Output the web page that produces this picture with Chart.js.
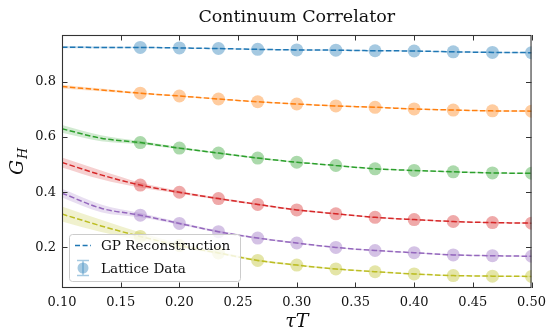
<!DOCTYPE html>
<html>
<head>
<meta charset="utf-8">
<script src="https://cdn.jsdelivr.net/npm/chart.js@4/dist/chart.umd.min.js"></script>
<style>
html, body { margin: 0; padding: 0; background: #fff; }
#wrap { width: 553px; height: 333px; }
</style>
</head>
<body>
<div id="wrap"><canvas id="corrChart"></canvas></div>
<script>
// lattice points (tau T) and GP curve sample points
const tauT = [0.1667, 0.2, 0.2333, 0.2667, 0.3, 0.3333, 0.3667, 0.4, 0.4333, 0.4667, 0.5];
const gpTau = [0.1, 0.1333, 0.1667, 0.2, 0.2333, 0.2667, 0.3, 0.3333, 0.3667, 0.4, 0.4333, 0.4667, 0.5];

const xTicks = [0.10, 0.15, 0.20, 0.25, 0.30, 0.35, 0.40, 0.45, 0.50];
const yTicks = [0.2, 0.4, 0.6, 0.8];

// lattice data, one array per series
const lat0 = [0.925, 0.923, 0.921, 0.918, 0.916, 0.915, 0.913, 0.912, 0.909, 0.907, 0.906];
const lat1 = [0.759, 0.749, 0.738, 0.728, 0.720, 0.713, 0.708, 0.702, 0.698, 0.695, 0.694];
const lat2 = [0.580, 0.560, 0.542, 0.524, 0.509, 0.497, 0.485, 0.479, 0.474, 0.470, 0.469];
const lat3 = [0.426, 0.400, 0.377, 0.356, 0.336, 0.322, 0.309, 0.301, 0.294, 0.290, 0.288];
const lat4 = [0.317, 0.287, 0.257, 0.234, 0.216, 0.200, 0.189, 0.181, 0.173, 0.170, 0.168];
const lat5 = [0.240, 0.207, 0.180, 0.153, 0.136, 0.122, 0.112, 0.104, 0.098, 0.096, 0.095];

// GP reconstruction (mean) on gpTau
const gp0 = [0.926, 0.925, 0.925, 0.923, 0.921, 0.918, 0.916, 0.915, 0.913, 0.912, 0.909, 0.907, 0.906];
const gp1 = [0.783, 0.771, 0.759, 0.749, 0.738, 0.728, 0.720, 0.713, 0.708, 0.702, 0.698, 0.695, 0.694];
const gp2 = [0.630, 0.596, 0.580, 0.560, 0.542, 0.524, 0.509, 0.497, 0.485, 0.479, 0.474, 0.470, 0.469];
const gp3 = [0.508, 0.463, 0.426, 0.400, 0.377, 0.356, 0.336, 0.322, 0.309, 0.301, 0.294, 0.290, 0.288];
const gp4 = [0.397, 0.342, 0.317, 0.287, 0.257, 0.234, 0.216, 0.200, 0.189, 0.181, 0.173, 0.170, 0.168];
const gp5 = [0.321, 0.278, 0.240, 0.207, 0.180, 0.153, 0.136, 0.122, 0.112, 0.104, 0.098, 0.096, 0.095];

// GP 1-sigma half widths
const gpErr0 = [0.004, 0.003, 0.002, 0.002, 0.002, 0.002, 0.002, 0.002, 0.002, 0.002, 0.002, 0.002, 0.002];
const gpErr1 = [0.007, 0.005, 0.003, 0.002, 0.002, 0.002, 0.002, 0.002, 0.002, 0.002, 0.002, 0.002, 0.002];
const gpErr2 = [0.014, 0.011, 0.006, 0.004, 0.003, 0.003, 0.002, 0.002, 0.002, 0.002, 0.002, 0.002, 0.002];
const gpErr3 = [0.018, 0.016, 0.009, 0.005, 0.004, 0.003, 0.003, 0.002, 0.002, 0.002, 0.002, 0.002, 0.002];
const gpErr4 = [0.016, 0.014, 0.008, 0.005, 0.004, 0.003, 0.003, 0.002, 0.002, 0.002, 0.002, 0.002, 0.002];
const gpErr5 = [0.027, 0.022, 0.014, 0.008, 0.005, 0.004, 0.003, 0.003, 0.002, 0.002, 0.002, 0.002, 0.002];

const lattice = [lat0, lat1, lat2, lat3, lat4, lat5];
const gpMean = [gp0, gp1, gp2, gp3, gp4, gp5];
const gpErr = [gpErr0, gpErr1, gpErr2, gpErr3, gpErr4, gpErr5];
const colors = ['31,119,180', '255,127,14', '44,160,44', '214,39,40', '148,103,189', '188,189,34'];

const SERIF = '"DejaVu Serif", "Liberation Serif", serif';

function pts(xs, ys) {
    return xs.map((x, i) => ({ x: x, y: ys[i] }));
}

const datasets = [];
gpMean.forEach((mean, k) => {
    const c = colors[k];
    datasets.push({
        label: 'band-up',
        data: pts(gpTau, mean.map((v, i) => v + gpErr[k][i])),
        borderWidth: 0,
        pointRadius: 0,
        cubicInterpolationMode: 'monotone',
        fill: '+1',
        backgroundColor: 'rgba(' + c + ',0.22)',
        order: 3
    });
    datasets.push({
        label: 'band-low',
        data: pts(gpTau, mean.map((v, i) => v - gpErr[k][i])),
        borderWidth: 0,
        pointRadius: 0,
        cubicInterpolationMode: 'monotone',
        fill: false,
        order: 3
    });
    datasets.push({
        label: 'GP Reconstruction',
        data: pts(gpTau, mean),
        borderColor: 'rgb(' + c + ')',
        borderWidth: 1.5,
        borderDash: [5.5, 2.4],
        pointRadius: 0,
        cubicInterpolationMode: 'monotone',
        fill: false,
        order: 1
    });
    datasets.push({
        label: 'Lattice Data',
        data: pts(tauT, lattice[k]),
        showLine: false,
        pointRadius: 6.5,
        pointBorderWidth: 0,
        pointBackgroundColor: 'rgba(' + c + ',0.4)',
        order: 2
    });
});

// frame, inward ticks, title, axis labels and legend
const decorations = {
    id: 'decorations',
    afterDraw(chart) {
        const ctx = chart.ctx;
        const a = chart.chartArea;
        const xs = chart.scales.x, ys = chart.scales.y;
        ctx.save();

        // frame
        ctx.strokeStyle = '#333';
        ctx.lineWidth = 1.1;
        ctx.strokeRect(a.left + 0.5, a.top + 0.5, a.right - a.left - 1, a.bottom - a.top - 1);

        // ticks pointing inward
        ctx.lineWidth = 1;
        ctx.beginPath();
        xTicks.forEach(v => {
            const px = Math.round(xs.getPixelForValue(v)) + 0.5;
            ctx.moveTo(px, a.bottom); ctx.lineTo(px, a.bottom - 5.5);
            ctx.moveTo(px, a.top); ctx.lineTo(px, a.top + 5.5);
        });
        yTicks.forEach(v => {
            const py = Math.round(ys.getPixelForValue(v)) + 0.5;
            ctx.moveTo(a.left, py); ctx.lineTo(a.left + 5.5, py);
            ctx.moveTo(a.right, py); ctx.lineTo(a.right - 5.5, py);
        });
        ctx.stroke();

        ctx.fillStyle = '#111';
        ctx.textAlign = 'center';
        ctx.textBaseline = 'middle';

        // title
        ctx.font = '17.5px ' + SERIF;
        ctx.fillText('Continuum Correlator', (a.left + a.right) / 2, 17);

        // x axis label
        ctx.font = 'italic 19px ' + SERIF;
        ctx.fillText('\u03C4T', (a.left + a.right) / 2, 322);

        // y axis label with subscript
        ctx.save();
        ctx.translate(17, (a.top + a.bottom) / 2);
        ctx.rotate(-Math.PI / 2);
        ctx.textAlign = 'left';
        ctx.textBaseline = 'alphabetic';
        ctx.font = 'italic 19px ' + SERIF;
        const gw = ctx.measureText('G').width;
        ctx.fillText('G', -gw / 2 - 6, 6);
        ctx.font = 'italic 13px ' + SERIF;
        ctx.fillText('H', gw / 2 - 5, 10);
        ctx.restore();

        // legend
        const lx = 69, ly = 234, lw = 171, lh = 47;
        ctx.beginPath();
        ctx.roundRect(lx + 0.5, ly + 0.5, lw, lh, 3);
        ctx.fillStyle = 'rgba(255,255,255,0.8)';
        ctx.fill();
        ctx.strokeStyle = '#cccccc';
        ctx.lineWidth = 1;
        ctx.stroke();

        const c = colors[0];
        ctx.strokeStyle = 'rgb(' + c + ')';
        ctx.lineWidth = 1.5;
        ctx.setLineDash([5, 2.6]);
        ctx.beginPath();
        ctx.moveTo(75, 245.5); ctx.lineTo(91, 245.5);
        ctx.stroke();
        ctx.setLineDash([]);

        ctx.strokeStyle = 'rgba(' + c + ',0.4)';
        ctx.lineWidth = 1.5;
        ctx.beginPath();
        ctx.moveTo(83, 260.5); ctx.lineTo(83, 275.5);
        ctx.moveTo(77, 260.5); ctx.lineTo(89, 260.5);
        ctx.moveTo(77, 275.5); ctx.lineTo(89, 275.5);
        ctx.stroke();
        ctx.fillStyle = 'rgba(' + c + ',0.4)';
        ctx.beginPath();
        ctx.arc(83, 268, 5.5, 0, Math.PI * 2);
        ctx.fill();

        ctx.fillStyle = '#111';
        ctx.textAlign = 'left';
        ctx.textBaseline = 'middle';
        ctx.font = '13.6px ' + SERIF;
        ctx.fillText('GP Reconstruction', 101, 246);
        ctx.fillText('Lattice Data', 101, 269);

        ctx.restore();
    }
};

new Chart(document.getElementById('corrChart').getContext('2d'), {
    type: 'line',
    data: { datasets: datasets },
    options: {
        responsive: true,
        maintainAspectRatio: false,
        animation: false,
        layout: { padding: { left: 0, right: 17, top: 35, bottom: 0 } },
        scales: {
            x: {
                type: 'linear',
                min: 0.1,
                max: 0.5,
                afterBuildTicks: s => { s.ticks = xTicks.map(v => ({ value: v })); },
                afterFit: s => { s.height = 45; },
                grid: { display: false, drawTicks: false },
                border: { display: false },
                ticks: {
                    padding: 7,
                    color: '#111',
                    font: { family: SERIF, size: 13 },
                    callback: v => Number(v).toFixed(2)
                }
            },
            y: {
                type: 'linear',
                min: 0.053,
                max: 0.97,
                afterBuildTicks: s => { s.ticks = yTicks.map(v => ({ value: v })); },
                afterFit: s => { s.width = 62; },
                grid: { display: false, drawTicks: false },
                border: { display: false },
                ticks: {
                    padding: 6,
                    color: '#111',
                    font: { family: SERIF, size: 13 },
                    callback: v => Number(v).toFixed(1)
                }
            }
        },
        plugins: {
            legend: { display: false },
            tooltip: { enabled: false },
            title: { display: false }
        }
    },
    plugins: [decorations]
});
</script>
</body>
</html>
